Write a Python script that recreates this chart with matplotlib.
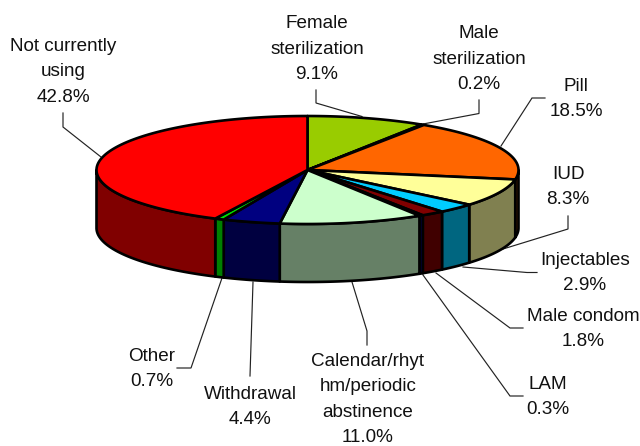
# -*- coding: utf-8 -*-
"""3D-look contraceptive use pie, drawn in pixel coordinates."""
import numpy as np
import matplotlib
matplotlib.use("Agg")
import matplotlib.pyplot as plt
from matplotlib.patches import Polygon

plt.rcParams.update({"font.family": ["Liberation Sans", "DejaVu Sans"], "font.size": 13.6})

labels = ["Female\nsterilization", "Male\nsterilization", "Pill", "IUD", "Injectables", "Male condom",
          "LAM", "Calendar/rhyt\nhm/periodic\nabstinence", "Withdrawal", "Other", "Not currently\nusing"]
values = [9.1, 0.2, 18.5, 8.3, 2.9, 1.8, 0.3, 11.0, 4.4, 0.7, 42.8]
top_colors = ["#99CC00", "#FF9900", "#FF6600", "#FFFF99", "#00CCFF", "#800000",
              "#0000A0", "#CCFFCC", "#000080", "#00E000", "#FF0000"]
side_colors = ["#4D6600", "#804D00", "#803300", "#808050", "#006680", "#400000",
               "#000050", "#668066", "#000040", "#008000", "#800000"]

# layout, in pixels of the 640x446 picture
CX, CY, RX, RY, DEPTH = 307.5, 170, 211, 54, 58
text_xy = [(317, 49), (479, 59), (576, 99), (568, 187), (585, 273), (583, 329),
           (548, 397), (368, 399.5), (250, 407), (152, 369), (63, 72)]
leaders = [[(316, 90), (316, 103), (362, 116.5)],
           [(479, 100), (479, 113.5), (423, 124)],
           [(545, 98), (532, 98), (501, 146)],
           [(568, 216), (568, 229), (503, 249)],
           [(537, 272.5), (527, 272.5), (463, 267)],
           [(523, 328), (510, 328), (436, 273)],
           [(523, 396), (510, 396), (423, 275)],
           [(367, 345), (367, 331), (352, 282)],
           [(250, 376), (253, 282)],
           [(177, 368), (191, 368), (222, 278)],
           [(63, 113), (63, 127), (101, 157)]]


def arc(t0, t1, dy=0):
    t = np.radians(np.linspace(t0, t1, max(int(abs(t1-t0)*2), 2)))
    return np.column_stack([CX+RX*np.sin(t), CY+dy-RY*np.cos(t)])


fig = plt.figure(figsize=(6.4, 4.46), dpi=100)
ax = fig.add_axes([0, 0, 1, 1])
ax.set_xlim(0, 640); ax.set_ylim(446, 0); ax.axis("off")

edges = np.concatenate([[0], np.cumsum(values)])*3.6
edges[-1] = 360

# side wall only shows on the near half, 90 to 270 deg clockwise from the top
for i in range(len(values)):
    a, b = max(edges[i], 90), min(edges[i+1], 270)
    if b > a:
        pts = np.vstack([arc(a, b), arc(b, a, DEPTH)])
        ax.add_patch(Polygon(pts, closed=True, fc=side_colors[i], ec="k", lw=1.9, joinstyle="round", zorder=2))

for i in range(len(values)):
    pts = np.vstack([[(CX, CY)], arc(edges[i], edges[i+1])])
    ax.add_patch(Polygon(pts, closed=True, fc=top_colors[i], ec="k", lw=1.9, joinstyle="round", zorder=3))

for pts in leaders:
    xs, ys = zip(*pts)
    ax.plot(xs, ys, color="#222222", lw=0.85, zorder=1, solid_joinstyle="miter")

for lab, v, (x, y) in zip(labels, values, text_xy):
    ax.text(x, y, f"{lab}\n{v:.1f}%", ha="center", va="center", linespacing=1.65, color="#111111", zorder=5)

fig.savefig("out.png", dpi=100)
